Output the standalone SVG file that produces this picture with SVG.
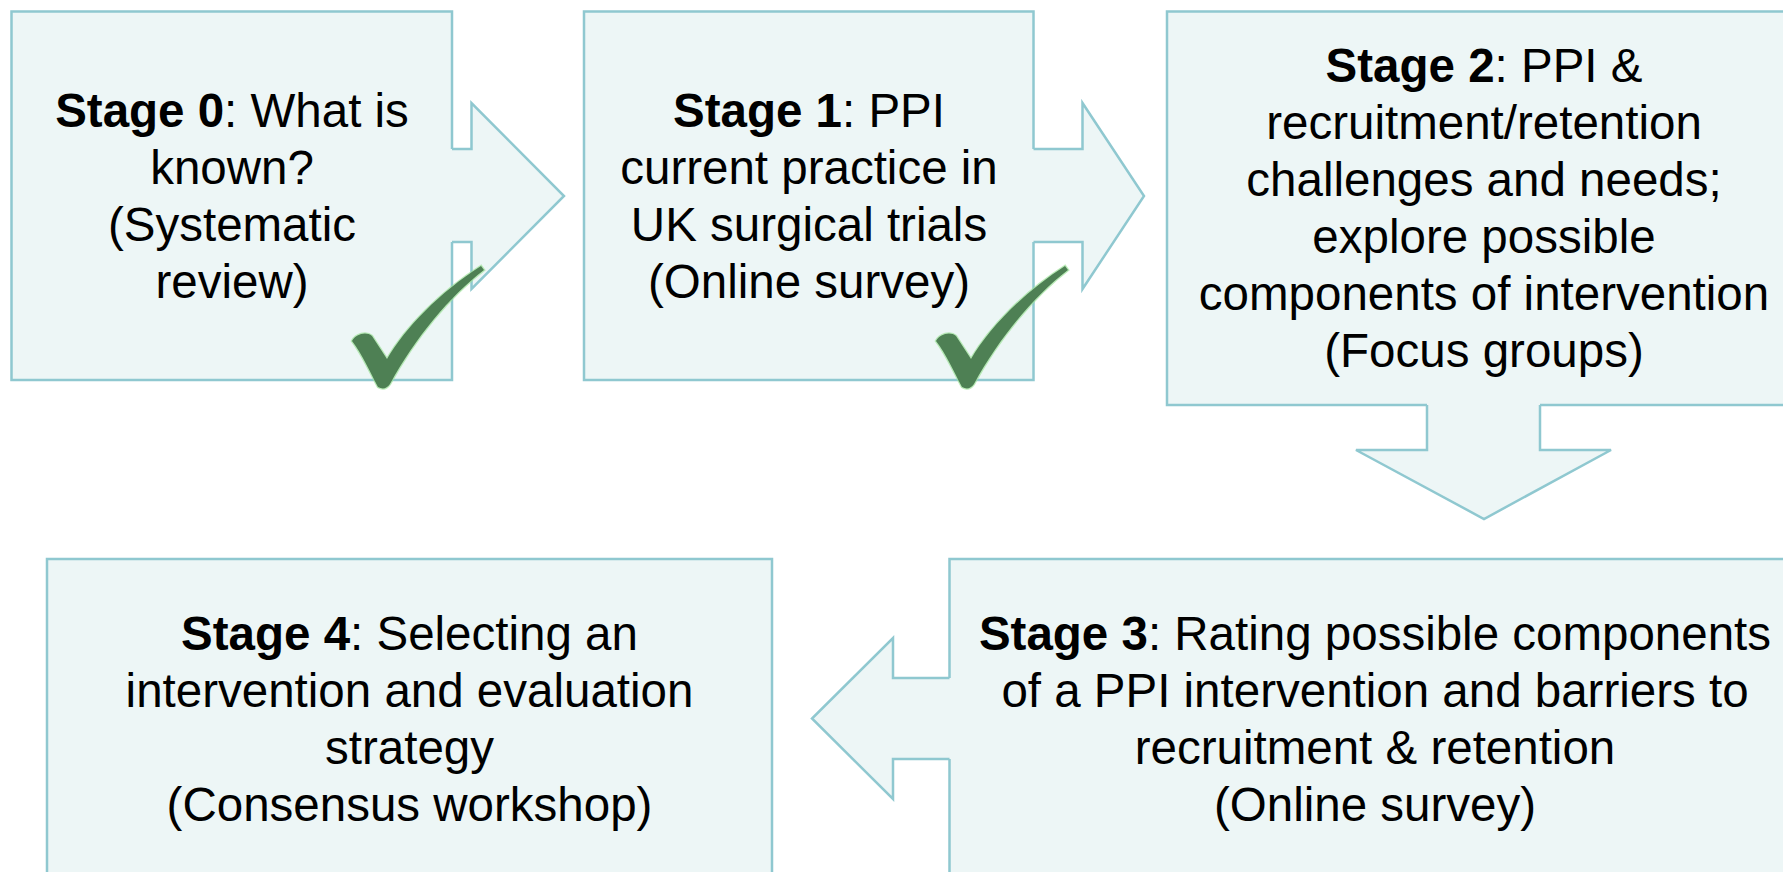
<svg xmlns="http://www.w3.org/2000/svg" width="1783" height="872" viewBox="0 0 1783 872">
<defs>
<style>
.box{fill:#EDF6F6;stroke:#8FC8D0;stroke-width:2.5}
.afill{fill:#EDF6F6;stroke:none}
.aline{fill:none;stroke:#8FC8D0;stroke-width:2.5;stroke-linejoin:miter}
text{font-family:"Liberation Sans",Arial,sans-serif;font-size:47.5px;fill:#000;text-anchor:middle}
.b{font-weight:bold}
.chk{fill:#4E8054;stroke:#9EE39A;stroke-width:2.5;stroke-opacity:0.7;paint-order:stroke}
</style>
<path id="check" d="M352,341 C356,334 366,331 372,336 L387,359 C405,328 440,292 481,266 L484,270 C450,296 415,338 390,384 Q385,391 378,387 C370,372 362,354 352,341 Z"/>
</defs>
<rect width="1783" height="872" fill="#FFFFFF"/>
<g id="stage0">
<rect class="box" x="11.5" y="11.5" width="440.5" height="368.5"/>
<text x="232" y="127"><tspan class="b">Stage 0</tspan>: What is</text>
<text x="232" y="184">known?</text>
<text x="232" y="241">(Systematic</text>
<text x="232" y="298">review)</text>
</g>
<g id="stage1">
<rect class="box" x="584" y="11.5" width="449.5" height="368.5"/>
<text x="809" y="127"><tspan class="b">Stage 1</tspan>: PPI</text>
<text x="809" y="184">current practice in</text>
<text x="809" y="241">UK surgical trials</text>
<text x="809" y="298">(Online survey)</text>
</g>
<g id="stage2">
<rect class="box" x="1167" y="11.5" width="640" height="393.5"/>
<text x="1484" y="82"><tspan class="b">Stage 2</tspan>: PPI &amp;</text>
<text x="1484" y="139">recruitment/retention</text>
<text x="1484" y="196">challenges and needs;</text>
<text x="1484" y="253">explore possible</text>
<text x="1484" y="310">components of intervention</text>
<text x="1484" y="367">(Focus groups)</text>
</g>
<g id="stage3">
<rect class="box" x="949.5" y="559" width="851" height="340"/>
<text x="1375" y="650"><tspan class="b">Stage 3</tspan>: Rating possible components</text>
<text x="1375" y="707">of a PPI intervention and barriers to</text>
<text x="1375" y="764">recruitment &amp; retention</text>
<text x="1375" y="821">(Online survey)</text>
</g>
<g id="stage4">
<rect class="box" x="47" y="559" width="725" height="340"/>
<text x="409.5" y="650"><tspan class="b">Stage 4</tspan>: Selecting an</text>
<text x="409.5" y="707">intervention and evaluation</text>
<text x="409.5" y="764">strategy</text>
<text x="409.5" y="821">(Consensus workshop)</text>
</g>
<g id="connectors">
<g id="arrow0to1">
<path class="afill" d="M448,149 L471.5,149 L471.5,103 L564,196 L471.5,289 L471.5,242 L448,242 Z"/>
<path class="aline" d="M452,149 L471.5,149 L471.5,103 L564,196 L471.5,289 L471.5,242 L452,242"/>
</g>
<g id="arrow1to2">
<path class="afill" d="M1030,149 L1082.5,149 L1082.5,103 L1144,196 L1082.5,289 L1082.5,242 L1030,242 Z"/>
<path class="aline" d="M1033.5,149 L1082.5,149 L1082.5,103 L1144,196 L1082.5,289 L1082.5,242 L1033.5,242"/>
</g>
<g id="arrow2to3">
<path class="afill" d="M1427,401 L1427,450 L1356,450 L1484,519 L1611,450 L1540,450 L1540,401 Z"/>
<path class="aline" d="M1427,405 L1427,450 L1356,450 L1484,519 L1611,450 L1540,450 L1540,405"/>
</g>
<g id="arrow3to4">
<path class="afill" d="M953,678 L893,678 L893,638 L812,718.5 L893,799 L893,759 L953,759 Z"/>
<path class="aline" d="M949.5,678 L893,678 L893,638 L812,718.5 L893,799 L893,759 L949.5,759"/>
</g>
</g>
<g id="checks">
<use id="check0" href="#check" class="chk"/>
<use id="check1" href="#check" class="chk" transform="translate(584,0)"/>
</g>
</svg>
